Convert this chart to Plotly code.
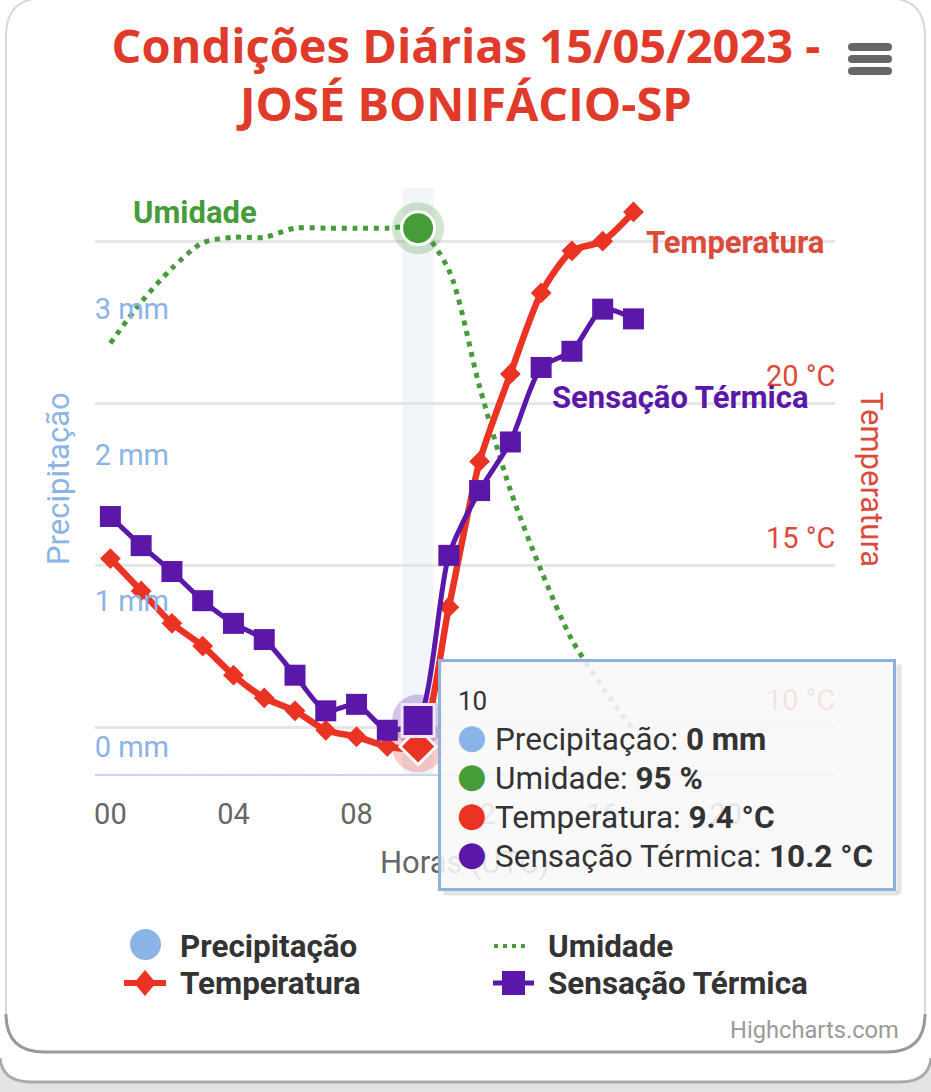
import plotly.graph_objects as go

# dimensoes da pagina
W = 931
H = 1092

# dados
horas = list(range(18))
precipitacao = [0] * 18
umidade = [82.4, 86.9, 90.6, 93.4, 94, 94, 95, 95, 95, 95, 95, 90.4, 77.6, 66.3, 57.5, 49.9, 44.7, 40]
temperatura = [15.2, 14.2, 13.2, 12.5, 11.6, 10.9, 10.5, 9.9, 9.7, 9.4, 9.4, 13.7, 18.2, 20.9, 23.4, 24.7, 25.0, 25.9]
sensacao = [16.5, 15.6, 14.8, 13.9, 13.2, 12.7, 11.6, 10.5, 10.7, 9.9, 10.2, 15.3, 17.3, 18.8, 21.1, 21.6, 22.9, 22.6]

hora_tick = [0, 4, 8, 12, 16, 20]
hora_label = ['00', '04', '08', '12', '16', '20']
mm_tick = [0, 1, 2, 3]
mm_label = ['0 mm', '1 mm', '2 mm', '3 mm']
temp_tick = [10, 15, 20, 25]
temp_label = ['10 °C', '15 °C', '20 °C', '']
i_hover = 10

AZUL = '#8ab4e6'
VERDE = '#479c3a'
VERMELHO = '#ea3323'
VERMELHO_EIXO = '#dc4a3a'
ROXO = '#5a17a8'
FONTE = 'Roboto'


def px(x):
    return x / W


def py(y):
    return 1 - y / H


def retangulo(x0, y0, x1, y1, r):
    # retangulo arredondado em coordenadas de pagina
    a0, a1 = px(x0), px(x1)
    b0, b1 = py(y0), py(y1)
    rx, ry = r / W, r / H
    return (f'M{a0 + rx},{b0} L{a1 - rx},{b0} Q{a1},{b0} {a1},{b0 - ry} L{a1},{b1 + ry} '
            f'Q{a1},{b1} {a1 - rx},{b1} L{a0 + rx},{b1} Q{a0},{b1} {a0},{b1 + ry} '
            f'L{a0},{b0 - ry} Q{a0},{b0} {a0 + rx},{b0} Z')


def forma(path, fill='rgba(0,0,0,0)', line='rgba(0,0,0,0)', width=0, layer='below'):
    return dict(type='path', xref='paper', yref='paper', path=path, fillcolor=fill,
                line=dict(color=line, width=width), layer=layer)


def texto(x, y, s, size, color, anchor='left', bold=False, angle=0, family=FONTE):
    if bold:
        s = f'<b>{s}</b>'
    return dict(xref='paper', yref='paper', x=px(x), y=py(y), text=s, showarrow=False,
                xanchor=anchor, yanchor='middle', textangle=angle,
                font=dict(family=family, size=size, color=color))


def faixa(x, y, w, h, cor):
    # caixa vazia feita com anotacao, fica por cima do titulo do eixo x
    return dict(xref='paper', yref='paper', x=px(x), y=py(y), xanchor='left', yanchor='top', text=' ',
                font=dict(size=1), showarrow=False, width=w, height=h, bgcolor=cor, borderpad=0)


fig = go.Figure()

fig.add_trace(go.Bar(x=horas, y=precipitacao, name='Precipitação', marker_color=AZUL, yaxis='y'))

# halos do ponto destacado
fig.add_trace(go.Scatter(x=[horas[i_hover]], y=[umidade[i_hover]], mode='markers', yaxis='y2', showlegend=False,
                         marker=dict(size=52, color=VERDE, opacity=0.25)))
fig.add_trace(go.Scatter(x=horas, y=umidade, name='Umidade', mode='lines', yaxis='y2',
                         line=dict(color=VERDE, width=5, dash='5px,5.7px', shape='spline', smoothing=0.8)))
fig.add_trace(go.Scatter(x=[horas[i_hover]], y=[umidade[i_hover]], mode='markers', yaxis='y2', showlegend=False,
                         marker=dict(size=33, color=VERDE, line=dict(color='white', width=3))))

fig.add_trace(go.Scatter(x=[horas[i_hover]], y=[temperatura[i_hover]], mode='markers', yaxis='y3', showlegend=False,
                         marker=dict(size=52, color=VERMELHO, opacity=0.25)))
fig.add_trace(go.Scatter(x=[horas[i_hover]], y=[sensacao[i_hover]], mode='markers', yaxis='y3', showlegend=False,
                         marker=dict(size=52, color=ROXO, opacity=0.25)))
fig.add_trace(go.Scatter(x=horas, y=temperatura, name='Temperatura', mode='lines+markers', yaxis='y3',
                         line=dict(color=VERMELHO, width=6.5, shape='spline', smoothing=0.7),
                         marker=dict(symbol='diamond', size=16, color=VERMELHO)))
fig.add_trace(go.Scatter(x=[horas[i_hover]], y=[temperatura[i_hover]], mode='markers', yaxis='y3', showlegend=False,
                         marker=dict(symbol='diamond', size=28, color=VERMELHO, line=dict(color='white', width=3))))
fig.add_trace(go.Scatter(x=horas, y=sensacao, name='Sensação Térmica', mode='lines+markers', yaxis='y3',
                         line=dict(color=ROXO, width=5, shape='spline', smoothing=0.7),
                         marker=dict(symbol='square', size=21, color=ROXO)))
fig.add_trace(go.Scatter(x=[horas[i_hover]], y=[sensacao[i_hover]], mode='markers', yaxis='y3', showlegend=False,
                         marker=dict(symbol='square', size=32, color=ROXO, line=dict(color='#efe6f7', width=3))))

# cartoes do fundo, menu e simbolos da legenda
formas = [
    dict(type='rect', xref='paper', yref='paper', x0=0, x1=1, y0=0, y1=py(1066), fillcolor='#e4e4e4', line_width=0, layer='below'),
    forma(retangulo(-4, 1000, W + 4, 1082, 34), fill='white'),
    forma(f'M{px(0)},{py(1058)} Q{px(2)},{py(1082)} {px(32)},{py(1082)} L{px(899)},{py(1082)} Q{px(929)},{py(1082)} {px(931)},{py(1058)}',
          line='#ababab', width=3),
    forma(retangulo(6, -2, 925, 1052, 38), fill='white', line='#d8d8d8', width=2),
    forma(f'M{px(6)},{py(1014)} Q{px(6)},{py(1052)} {px(44)},{py(1052)} L{px(887)},{py(1052)} Q{px(925)},{py(1052)} {px(925)},{py(1014)}',
          line='#999999', width=3),
    dict(type='rect', xref='x', yref='paper', x0=horas[i_hover] - 0.5, x1=horas[i_hover] + 0.5,
         y0=py(774), y1=py(188), fillcolor='rgba(204,214,235,0.25)', line_width=0, layer='below'),
]
for y_barra in [47, 59, 71]:
    formas.append(forma(retangulo(848, y_barra - 4, 892, y_barra + 4, 4), fill='#666666', layer='above'))

# legenda
formas.append(dict(type='circle', xref='paper', yref='paper', x0=px(130), x1=px(161), y0=py(960), y1=py(929),
                   fillcolor=AZUL, line_width=0, layer='above'))
formas.append(dict(type='line', xref='paper', yref='paper', x0=px(494), x1=px(530), y0=py(946), y1=py(946),
                   line=dict(color=VERDE, width=4, dash='4px,5px'), layer='above'))
formas.append(dict(type='line', xref='paper', yref='paper', x0=px(124), x1=px(166), y0=py(983), y1=py(983),
                   line=dict(color=VERMELHO, width=6), layer='above'))
formas.append(forma(f'M{px(145)},{py(970)} L{px(156)},{py(983)} L{px(145)},{py(996)} L{px(134)},{py(983)} Z',
                    fill=VERMELHO, layer='above'))
formas.append(dict(type='line', xref='paper', yref='paper', x0=px(493), x1=px(534), y0=py(983), y1=py(983),
                   line=dict(color=ROXO, width=5), layer='above'))
formas.append(dict(type='rect', xref='paper', yref='paper', x0=px(502), x1=px(525), y0=py(995), y1=py(971),
                   fillcolor=ROXO, line_width=0, layer='above'))

anotacoes = [
    texto(464, 103, '<b>JOSÉ BONIFÁCIO-SP</b>', 47, '#e03a2b', anchor='center', family='Open Sans'),
    texto(58, 479, 'Precipitação', 31, AZUL, anchor='center', angle=-90),
    texto(872, 479, 'Temperatura', 31, VERMELHO_EIXO, anchor='center', angle=90),
    texto(465, 862, 'Horas (UTC)', 31, '#666666', anchor='center'),
    texto(195, 213, 'Umidade', 31, VERDE, anchor='center', bold=True),
    texto(735, 242, 'Temperatura', 31, VERMELHO_EIXO, anchor='center', bold=True),
    texto(680, 397, 'Sensação Térmica', 31, ROXO, anchor='center', bold=True),
    texto(178, 946, 'Precipitação', 31.4, '#333333', bold=True),
    texto(546, 946, 'Umidade', 31.4, '#333333', bold=True),
    texto(178, 983, 'Temperatura', 31.4, '#333333', bold=True),
    texto(546, 983, 'Sensação Térmica', 31.4, '#333333', bold=True),
    texto(901, 1030, 'Highcharts.com', 23.7, '#999999', anchor='right'),
]

# sombra e caixa do tooltip (anotacoes para cobrir tambem o titulo do eixo x)
anotacoes.append(faixa(896, 664, 4, 229, 'rgba(120,120,120,0.2)'))
anotacoes.append(faixa(443, 890, 453, 4, 'rgba(120,120,120,0.2)'))
anotacoes.append(dict(xref='paper', yref='paper', x=px(438), y=py(659), xanchor='left', yanchor='top', text=' ',
                      showarrow=False, width=452, height=226, bgcolor='rgba(248,248,248,0.88)',
                      bordercolor='#8fb2da', borderwidth=3, borderpad=0))
anotacoes.append(texto(456, 701, '10', 26, '#333333'))
linhas_tooltip = [
    (AZUL, 739, f'Precipitação: <b>{precipitacao[i_hover]} mm</b>'),
    (VERDE, 778, f'Umidade: <b>{umidade[i_hover]} %</b>'),
    (VERMELHO, 817, f'Temperatura: <b>{temperatura[i_hover]} °C</b>'),
    (ROXO, 856, f'Sensação Térmica: <b>{sensacao[i_hover]} °C</b>'),
]
for cor, y_linha, s in linhas_tooltip:
    anotacoes.append(texto(472, y_linha - 3, '●', 34, cor, anchor='center', family='DejaVu Sans'))
    anotacoes.append(texto(493, y_linha, s, 31.5, '#333333'))

fig.update_layout(
    width=W,
    height=H,
    margin=dict(l=0, r=0, t=0, b=0),
    paper_bgcolor='white',
    plot_bgcolor='rgba(0,0,0,0)',
    showlegend=False,
    title=dict(text='Condições Diárias 15/05/2023 -', x=px(466), xanchor='center',
               y=py(47), yanchor='middle', font=dict(family='Open Sans', size=47, color='#e03a2b', weight='bold')),
    xaxis=dict(domain=[px(95), px(835)], range=[-0.5, 23.55], tickmode='array', tickvals=hora_tick, ticktext=hora_label,
               showgrid=False, zeroline=False, showline=True, linecolor='#ccd6eb', linewidth=2,
               ticks='outside', ticklen=13, tickcolor='rgba(0,0,0,0)',
               tickfont=dict(family=FONTE, size=29, color='#666666')),
    yaxis=dict(domain=[py(774), py(188)], range=[0, 586 / 146], tickmode='array', tickvals=mm_tick, ticktext=mm_label,
               showgrid=False, zeroline=False, ticklabelstandoff=-75, ticklabelshift=-27,
               tickfont=dict(family=FONTE, size=29, color=AZUL)),
    yaxis2=dict(domain=[py(774), py(188)], overlaying='y', range=[35.2, 99.4], visible=False),
    yaxis3=dict(domain=[py(774), py(188)], overlaying='y', side='right', range=[8.55, 26.64],
                tickmode='array', tickvals=temp_tick, ticktext=temp_label,
                showgrid=True, gridcolor='#e6e6e6', gridwidth=3, zeroline=False,
                ticklabelstandoff=-70, ticklabelshift=-27,
                tickfont=dict(family=FONTE, size=29, color=VERMELHO_EIXO)),
    shapes=formas,
    annotations=anotacoes,
    hovermode='x unified',
)

fig.write_html("out.html", config=dict(displayModeBar=False),
               post_script="document.body.style.margin='0';document.documentElement.style.overflow='hidden';")
